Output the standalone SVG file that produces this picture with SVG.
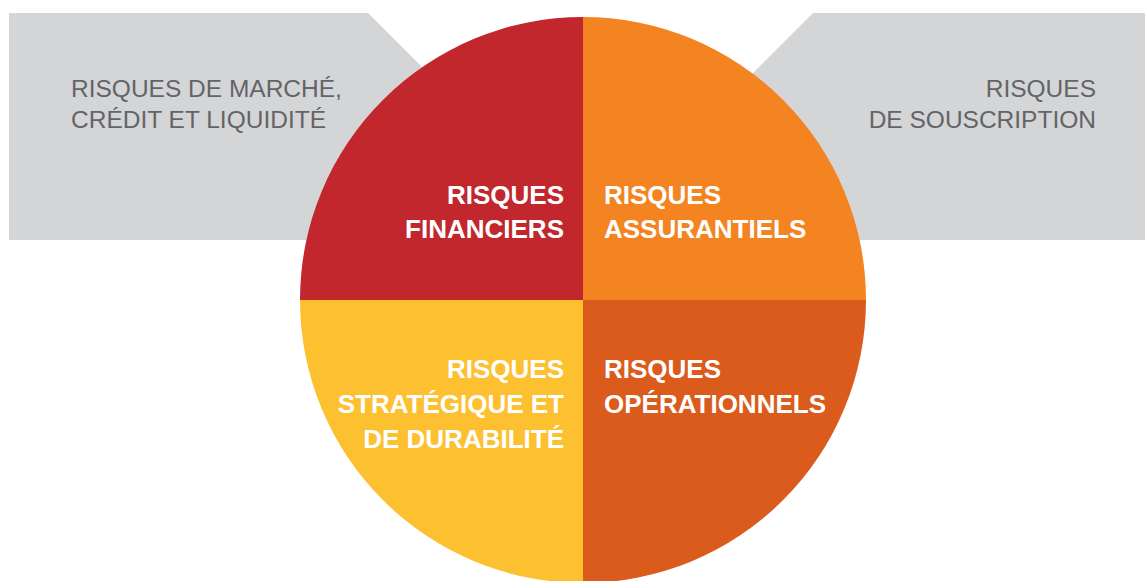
<svg xmlns="http://www.w3.org/2000/svg" width="1145" height="581" viewBox="0 0 1145 581">
<style>
.gray{fill:#D4D5D7}
.gt{font-family:"Liberation Sans",Arial,sans-serif;font-size:24.5px;fill:#636466}
.wt{font-family:"Liberation Sans",Arial,sans-serif;font-size:26px;font-weight:bold;fill:#ffffff}
</style>
<rect width="1145" height="581" fill="#ffffff"/>
<g id="marche">
<polygon class="gray" points="9,13 368,13 595,240 9,240"/>
<text class="gt" x="71" y="97">RISQUES DE MARCHÉ,</text>
<text class="gt" x="71" y="128">CRÉDIT ET LIQUIDITÉ</text>
</g>
<g id="souscription">
<polygon class="gray" points="1145,13 813,13 586,240 1145,240"/>
<text class="gt" x="1096" y="97" text-anchor="end">RISQUES</text>
<text class="gt" x="1096" y="128" text-anchor="end">DE SOUSCRIPTION</text>
</g>
<g id="financiers">
<path d="M583,300 L300,300 A283,283 0 0 1 583,17 Z" fill="#C1272D"/>
<text class="wt" x="564" y="204" text-anchor="end">RISQUES</text>
<text class="wt" x="564" y="238" text-anchor="end">FINANCIERS</text>
</g>
<g id="assurantiels">
<path d="M583,300 L583,17 A283,283 0 0 1 866,300 Z" fill="#F38421"/>
<text class="wt" x="604" y="204">RISQUES</text>
<text class="wt" x="604" y="238">ASSURANTIELS</text>
</g>
<g id="strategique">
<path d="M583,300 L583,583 A283,283 0 0 1 300,300 Z" fill="#FDC030"/>
<text class="wt" x="564" y="378" text-anchor="end">RISQUES</text>
<text class="wt" x="564" y="413" text-anchor="end">STRATÉGIQUE ET</text>
<text class="wt" x="564" y="448" text-anchor="end">DE DURABILITÉ</text>
</g>
<g id="operationnels">
<path d="M583,300 L866,300 A283,283 0 0 1 583,583 Z" fill="#DB5B1D"/>
<text class="wt" x="604" y="378">RISQUES</text>
<text class="wt" x="604" y="413">OPÉRATIONNELS</text>
</g>
<g id="connectors"></g>
</svg>
